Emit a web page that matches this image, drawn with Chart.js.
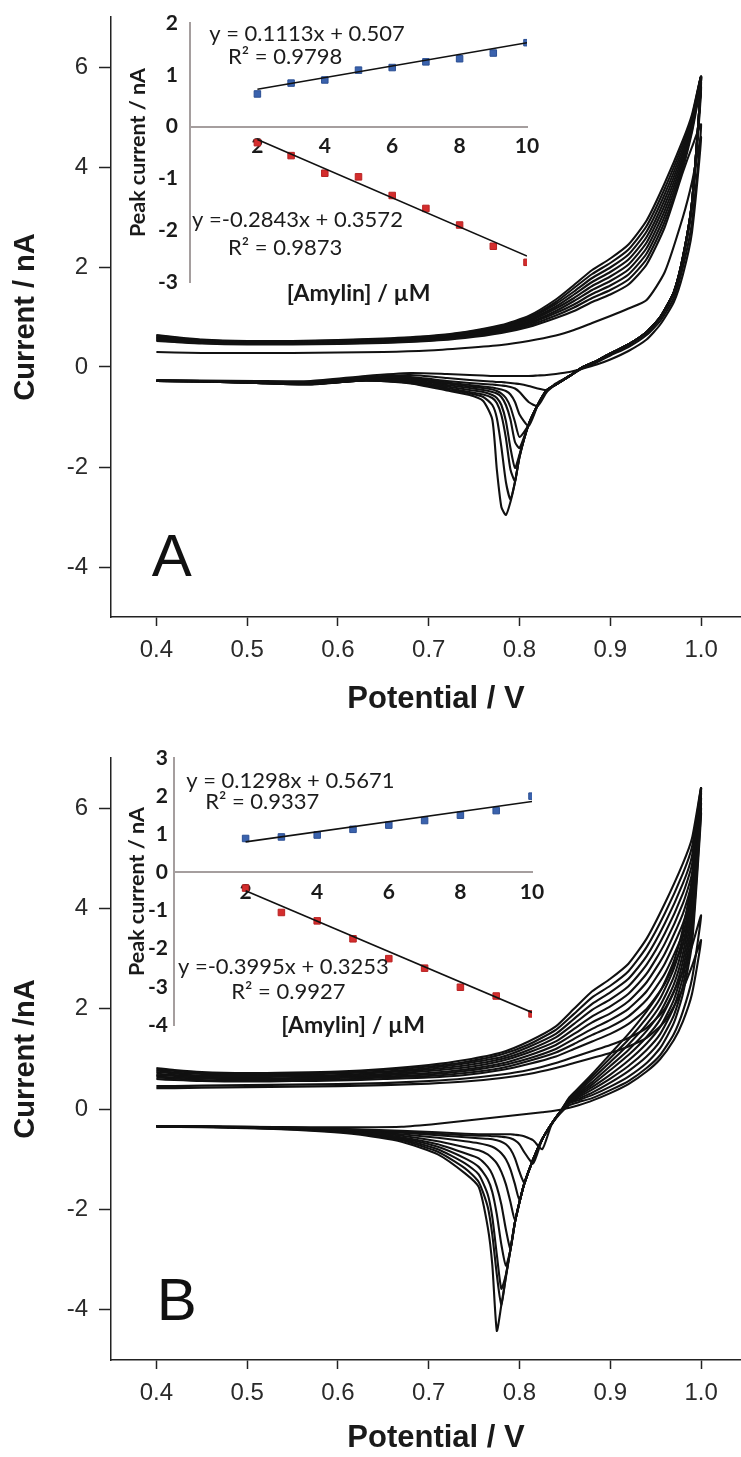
<!DOCTYPE html>
<html lang="en">
<head>
<meta charset="UTF-8">
<title>Amylin CV</title>
<script src="https://cdn.jsdelivr.net/npm/chart.js"></script>
<style>
  html, body { margin: 0; padding: 0; background: #fff; }
  #page { position: relative; width: 741px; height: 1457px; overflow: hidden; }
  canvas { position: absolute; }
</style>
</head>
<body>
<div id="page">
  <canvas id="mainA" style="left:0px;top:0px" width="761" height="728"></canvas>
  <canvas id="mainB" style="left:0px;top:728px" width="761" height="729"></canvas>
  <canvas id="insetA" style="left:100px;top:0px" width="460" height="320"></canvas>
  <canvas id="insetB" style="left:100px;top:700px" width="460" height="360"></canvas>
</div>
<script>
// ---- main panels: potentials (V) of the forward and reverse sweeps
const potFwd = [0.40, 0.42, 0.45, 0.50, 0.55, 0.60, 0.65, 0.70, 0.74, 0.78, 0.81, 0.84, 0.86, 0.88, 0.90, 0.92, 0.94, 0.96, 0.98, 0.99, 1.00];
const potRevA = [1.00, 0.99, 0.98, 0.97, 0.955, 0.94, 0.92, 0.90, 0.885, 0.87, 0.855, 0.84, 0.83, 0.82, 0.81, 0.80, 0.795, 0.79, 0.785, 0.78, 0.775, 0.77, 0.76, 0.745, 0.72, 0.68, 0.63, 0.57, 0.51, 0.45, 0.40];
const potRevB = [1.00, 0.99, 0.98, 0.97, 0.955, 0.94, 0.92, 0.90, 0.88, 0.865, 0.855, 0.845, 0.835, 0.825, 0.815, 0.805, 0.80, 0.795, 0.79, 0.785, 0.78, 0.775, 0.77, 0.765, 0.755, 0.74, 0.71, 0.67, 0.62, 0.56, 0.50, 0.45, 0.40];

// panel A currents (nA)
const fwdA = [
  [0.30,0.29,0.28,0.28,0.28,0.29,0.30,0.33,0.38,0.44,0.52,0.63,0.74,0.88,1.02,1.17,1.34,1.90,3.00,3.70,4.60],
  [0.52,0.50,0.47,0.45,0.45,0.46,0.48,0.52,0.58,0.68,0.80,0.98,1.12,1.30,1.45,1.65,2.05,2.80,3.90,4.40,4.85],
  [0.54,0.51,0.48,0.46,0.46,0.47,0.49,0.53,0.60,0.70,0.83,1.03,1.19,1.38,1.54,1.75,2.16,2.91,3.98,4.70,5.60],
  [0.55,0.53,0.49,0.47,0.47,0.48,0.50,0.55,0.61,0.72,0.86,1.08,1.25,1.46,1.63,1.85,2.27,3.02,4.06,4.75,5.70],
  [0.57,0.54,0.50,0.48,0.48,0.49,0.51,0.56,0.63,0.74,0.88,1.12,1.32,1.54,1.72,1.95,2.38,3.13,4.14,4.80,5.80],
  [0.58,0.55,0.51,0.49,0.49,0.50,0.52,0.57,0.64,0.76,0.91,1.17,1.38,1.62,1.81,2.05,2.49,3.24,4.22,4.85,5.80],
  [0.60,0.56,0.52,0.49,0.50,0.51,0.54,0.58,0.66,0.78,0.94,1.21,1.45,1.70,1.90,2.15,2.60,3.35,4.30,4.90,5.80],
  [0.61,0.58,0.53,0.50,0.50,0.52,0.55,0.60,0.67,0.80,0.97,1.26,1.51,1.78,1.99,2.25,2.71,3.46,4.38,4.95,5.80],
  [0.63,0.59,0.54,0.51,0.51,0.53,0.56,0.61,0.69,0.82,0.99,1.30,1.58,1.86,2.08,2.35,2.82,3.57,4.46,5.00,5.80],
  [0.64,0.60,0.55,0.52,0.52,0.54,0.57,0.62,0.70,0.84,1.02,1.35,1.64,1.94,2.17,2.45,2.93,3.68,4.54,5.05,5.80]
];
const revA = [
  [4.60,2.70,1.85,1.30,0.85,0.55,0.32,0.15,0.05,-0.03,-0.10,-0.14,-0.16,-0.17,-0.18,-0.18,-0.18,-0.18,-0.18,-0.18,-0.18,-0.18,-0.17,-0.16,-0.14,-0.12,-0.18,-0.28,-0.28,-0.27,-0.26],
  [4.85,2.90,2.00,1.38,0.92,0.64,0.40,0.23,0.09,-0.02,-0.18,-0.33,-0.46,-0.43,-0.38,-0.34,-0.33,-0.32,-0.31,-0.30,-0.30,-0.29,-0.28,-0.26,-0.22,-0.16,-0.20,-0.30,-0.30,-0.28,-0.27],
  [5.60,3.20,2.15,1.47,0.98,0.68,0.44,0.26,0.11,0.00,-0.18,-0.35,-0.50,-0.78,-0.70,-0.50,-0.43,-0.40,-0.38,-0.37,-0.36,-0.35,-0.34,-0.32,-0.28,-0.20,-0.22,-0.30,-0.30,-0.28,-0.27],
  [5.70,3.25,2.18,1.49,0.99,0.69,0.45,0.27,0.12,0.00,-0.18,-0.35,-0.48,-0.77,-1.18,-0.95,-0.70,-0.55,-0.48,-0.45,-0.43,-0.41,-0.39,-0.36,-0.31,-0.22,-0.23,-0.31,-0.30,-0.28,-0.27],
  [5.80,3.30,2.20,1.50,1.00,0.70,0.45,0.27,0.12,0.00,-0.18,-0.35,-0.47,-0.76,-1.16,-1.40,-1.10,-0.80,-0.62,-0.53,-0.48,-0.45,-0.42,-0.39,-0.33,-0.24,-0.25,-0.32,-0.31,-0.29,-0.28],
  [5.80,3.30,2.20,1.50,1.00,0.70,0.45,0.27,0.12,0.00,-0.18,-0.35,-0.47,-0.76,-1.15,-1.62,-1.50,-1.05,-0.76,-0.60,-0.53,-0.50,-0.46,-0.42,-0.36,-0.26,-0.26,-0.33,-0.31,-0.29,-0.28],
  [5.80,3.30,2.20,1.50,1.00,0.70,0.45,0.27,0.12,0.00,-0.18,-0.35,-0.46,-0.76,-1.15,-1.75,-2.02,-1.62,-1.08,-0.76,-0.62,-0.56,-0.50,-0.46,-0.39,-0.28,-0.27,-0.34,-0.32,-0.29,-0.28],
  [5.80,3.30,2.20,1.50,1.00,0.70,0.45,0.27,0.12,0.00,-0.18,-0.35,-0.46,-0.76,-1.15,-1.78,-2.28,-2.05,-1.42,-0.96,-0.72,-0.62,-0.55,-0.50,-0.42,-0.30,-0.27,-0.34,-0.32,-0.29,-0.28],
  [5.80,3.30,2.20,1.50,1.00,0.70,0.45,0.27,0.12,0.00,-0.18,-0.35,-0.46,-0.76,-1.15,-1.80,-2.30,-2.65,-2.30,-1.60,-1.02,-0.76,-0.60,-0.53,-0.45,-0.32,-0.27,-0.35,-0.32,-0.29,-0.28],
  [5.80,3.30,2.20,1.50,1.00,0.70,0.45,0.27,0.12,0.00,-0.18,-0.35,-0.46,-0.76,-1.15,-1.80,-2.30,-2.70,-2.96,-2.80,-2.05,-1.05,-0.68,-0.56,-0.47,-0.33,-0.27,-0.35,-0.32,-0.29,-0.28]
];

// panel B currents (nA)
const fwdB = [
  [0.42,0.42,0.43,0.44,0.45,0.46,0.48,0.51,0.55,0.62,0.70,0.82,0.92,1.02,1.12,1.25,1.42,1.75,2.40,2.85,3.37],
  [0.46,0.46,0.47,0.48,0.49,0.50,0.52,0.56,0.61,0.69,0.78,0.92,1.04,1.16,1.28,1.42,1.62,2.00,2.75,3.25,3.86],
  [0.60,0.58,0.56,0.55,0.56,0.57,0.60,0.63,0.68,0.78,0.90,1.05,1.20,1.35,1.50,1.70,2.00,2.50,3.30,4.00,5.90],
  [0.63,0.61,0.58,0.57,0.58,0.59,0.63,0.66,0.72,0.82,0.96,1.13,1.30,1.48,1.64,1.85,2.18,2.70,3.50,4.18,6.00],
  [0.66,0.63,0.61,0.59,0.60,0.62,0.65,0.69,0.76,0.87,1.01,1.20,1.40,1.60,1.78,2.00,2.35,2.90,3.70,4.35,6.10],
  [0.68,0.66,0.63,0.61,0.62,0.64,0.68,0.72,0.79,0.91,1.07,1.28,1.50,1.73,1.91,2.15,2.53,3.10,3.90,4.53,6.20],
  [0.71,0.68,0.65,0.64,0.65,0.66,0.70,0.76,0.83,0.96,1.13,1.35,1.60,1.85,2.05,2.30,2.70,3.30,4.10,4.70,6.30],
  [0.74,0.71,0.67,0.66,0.67,0.68,0.73,0.79,0.87,1.00,1.18,1.43,1.70,1.98,2.19,2.45,2.88,3.50,4.30,4.88,6.35],
  [0.77,0.73,0.70,0.68,0.69,0.71,0.75,0.82,0.91,1.04,1.24,1.50,1.80,2.10,2.33,2.60,3.05,3.70,4.50,5.05,6.40],
  [0.79,0.76,0.72,0.70,0.71,0.73,0.78,0.85,0.94,1.09,1.29,1.58,1.90,2.23,2.46,2.75,3.23,3.90,4.70,5.23,6.40],
  [0.82,0.78,0.74,0.72,0.73,0.75,0.80,0.88,0.98,1.13,1.35,1.65,2.00,2.35,2.60,2.90,3.40,4.10,4.90,5.40,6.40]
];
const revB = [
  [3.37,2.30,1.75,1.38,1.00,0.75,0.50,0.32,0.17,0.08,0.03,-0.01,-0.04,-0.06,-0.08,-0.10,-0.11,-0.12,-0.13,-0.14,-0.15,-0.16,-0.17,-0.18,-0.20,-0.23,-0.29,-0.35,-0.36,-0.36,-0.35,-0.34,-0.34],
  [3.86,2.60,1.95,1.50,1.08,0.82,0.56,0.38,0.22,0.14,0.08,-0.08,-0.32,-0.80,-0.62,-0.54,-0.52,-0.51,-0.50,-0.50,-0.50,-0.50,-0.50,-0.50,-0.50,-0.49,-0.46,-0.43,-0.40,-0.37,-0.35,-0.34,-0.34],
  [5.90,3.30,2.30,1.72,1.22,0.92,0.65,0.45,0.28,0.18,0.12,-0.05,-0.30,-0.60,-1.08,-0.85,-0.70,-0.62,-0.58,-0.56,-0.55,-0.54,-0.54,-0.53,-0.53,-0.52,-0.49,-0.45,-0.41,-0.37,-0.36,-0.35,-0.34],
  [6.00,3.46,2.46,1.87,1.36,1.05,0.76,0.53,0.33,0.21,0.13,-0.05,-0.30,-0.60,-1.00,-1.45,-1.25,-0.98,-0.80,-0.70,-0.65,-0.62,-0.60,-0.59,-0.58,-0.56,-0.52,-0.47,-0.42,-0.38,-0.36,-0.35,-0.34],
  [6.10,3.63,2.63,2.03,1.50,1.18,0.86,0.61,0.39,0.24,0.15,-0.05,-0.30,-0.60,-1.00,-1.50,-1.82,-1.50,-1.20,-1.00,-0.88,-0.80,-0.75,-0.72,-0.68,-0.64,-0.57,-0.50,-0.43,-0.38,-0.36,-0.35,-0.34],
  [6.20,3.79,2.79,2.18,1.64,1.31,0.97,0.69,0.44,0.27,0.16,-0.05,-0.30,-0.60,-1.00,-1.50,-1.85,-2.22,-1.85,-1.50,-1.25,-1.08,-0.98,-0.90,-0.82,-0.76,-0.64,-0.53,-0.44,-0.39,-0.36,-0.35,-0.34],
  [6.30,3.95,2.95,2.34,1.79,1.44,1.08,0.78,0.49,0.30,0.18,-0.05,-0.30,-0.60,-1.00,-1.50,-1.85,-2.25,-2.78,-2.40,-1.90,-1.55,-1.30,-1.15,-0.98,-0.88,-0.70,-0.56,-0.45,-0.39,-0.36,-0.35,-0.34],
  [6.35,4.11,3.11,2.49,1.93,1.56,1.18,0.86,0.54,0.33,0.19,-0.05,-0.30,-0.60,-1.00,-1.50,-1.85,-2.25,-2.80,-3.12,-2.70,-2.10,-1.65,-1.40,-1.15,-0.98,-0.75,-0.58,-0.46,-0.40,-0.36,-0.35,-0.34],
  [6.40,4.28,3.28,2.64,2.07,1.69,1.29,0.94,0.60,0.36,0.21,-0.05,-0.30,-0.60,-1.00,-1.50,-1.85,-2.25,-2.80,-3.30,-3.58,-2.90,-2.15,-1.70,-1.30,-1.08,-0.80,-0.60,-0.47,-0.40,-0.37,-0.35,-0.34],
  [6.40,4.44,3.44,2.80,2.21,1.82,1.39,1.02,0.65,0.39,0.22,-0.05,-0.30,-0.60,-1.00,-1.50,-1.85,-2.25,-2.80,-3.32,-3.92,-3.30,-2.50,-1.95,-1.45,-1.18,-0.85,-0.62,-0.48,-0.41,-0.37,-0.35,-0.34],
  [6.40,4.60,3.60,2.95,2.35,1.95,1.50,1.10,0.70,0.42,0.24,-0.05,-0.30,-0.60,-1.00,-1.50,-1.85,-2.25,-2.80,-3.35,-3.90,-4.42,-3.10,-2.35,-1.55,-1.28,-0.90,-0.65,-0.50,-0.42,-0.38,-0.36,-0.35]
];

const xTicksMain = [0.4, 0.5, 0.6, 0.7, 0.8, 0.9, 1.0];
const yTicksMain = [-4, -2, 0, 2, 4, 6];

// ---- insets: peak current vs [Amylin]
const amylin = [2, 3, 4, 5, 6, 7, 8, 9, 10];
const oxA = [0.63, 0.84, 0.90, 1.09, 1.14, 1.25, 1.31, 1.42, 1.62];
const redA = [-0.31, -0.56, -0.90, -0.97, -1.33, -1.58, -1.90, -2.31, -2.62];
const oxFitA = [0.72, 1.62];
const redFitA = [-0.25, -2.50];
const oxB = [0.89, 0.93, 0.98, 1.13, 1.24, 1.36, 1.50, 1.62, 2.00];
const redB = [-0.41, -1.05, -1.27, -1.74, -2.26, -2.51, -3.01, -3.24, -3.71];
const oxFitB = [0.80, 1.86];
const redFitB = [-0.48, -3.67];
const insetXTicks = [2, 4, 6, 8, 10];
const eqTextA = ['y = 0.1113x + 0.507', 'R² = 0.9798', 'y =-0.2843x + 0.3572', 'R² = 0.9873'];
const eqPosA = [[0.57, 1.78], [1.13, 1.35], [0.06, -1.80], [1.13, -2.34]];
const eqTextB = ['y = 0.1298x + 0.5671', 'R² = 0.9337', 'y =-0.3995x + 0.3253', 'R² = 0.9927'];
const eqPosB = [[0.34, 2.41], [0.87, 1.84], [0.11, -2.49], [1.60, -3.12]];

const sans = "'Liberation Sans', Arial, sans-serif";
const lato = "Lato, 'Open Sans', sans-serif";

function loop(fwd, potRev, rev) {
  const pts = potFwd.map((v, i) => ({ x: v, y: fwd[i] }));
  for (let j = 1; j < potRev.length; j++) pts.push({ x: potRev[j], y: rev[j] });
  return pts;
}

function noEndPadding(s) {
  s.paddingTop = 0;
  s.paddingBottom = 0;
}

function mainChart(id, fwd, potRev, rev, letter, letterPos, yTitle, padTop, xHeight, titlePad) {
  const datasets = fwd.map((f, k) => ({
    data: loop(f, potRev, rev[k]),
    showLine: true,
    borderColor: '#111',
    borderWidth: 2.1,
    pointRadius: 0,
    tension: 0.2,
    fill: false
  }));
  const letterPlugin = {
    id: 'letter',
    afterDraw(chart) {
      const c = chart.ctx;
      c.save();
      c.font = '60px ' + sans;
      c.fillStyle = '#111';
      c.textBaseline = 'alphabetic';
      c.fillText(letter, chart.scales.x.getPixelForValue(letterPos[0]), chart.scales.y.getPixelForValue(letterPos[1]));
      c.restore();
    }
  };
  return new Chart(document.getElementById(id), {
    type: 'scatter',
    data: { datasets },
    plugins: [letterPlugin],
    options: {
      responsive: false,
      animation: false,
      layout: { padding: { top: padTop, left: 0, right: 0, bottom: 0 } },
      plugins: { legend: { display: false }, tooltip: { enabled: false } },
      scales: {
        x: {
          type: 'linear', min: 0.35, max: 1.066,
          afterBuildTicks: s => { s.ticks = xTicksMain.map(v => ({ value: v })); },
          afterFit: s => { s.height = xHeight; },
          ticks: { callback: v => v.toFixed(1), font: { family: sans, size: 24 }, color: '#2a2a2a', padding: 10, maxRotation: 0, autoSkip: false },
          grid: { display: true, drawOnChartArea: false, drawTicks: true, tickLength: 9, tickColor: '#222', tickWidth: 1.5 },
          border: { display: true, color: '#222', width: 1.5 },
          title: { display: true, text: 'Potential / V', font: { family: sans, size: 31, weight: 'bold' }, color: '#1a1a1a', padding: { top: 0, bottom: titlePad } }
        },
        y: {
          type: 'linear', min: -5, max: 7,
          afterBuildTicks: s => { s.ticks = yTicksMain.map(v => ({ value: v })); },
          afterFit: s => { s.width = 111; noEndPadding(s); },
          ticks: { font: { family: sans, size: 24 }, color: '#2a2a2a', padding: 11 },
          grid: { display: true, drawOnChartArea: false, drawTicks: true, tickLength: 12, tickColor: '#222', tickWidth: 1.5 },
          border: { display: true, color: '#222', width: 1.5 },
          title: { display: true, text: yTitle, font: { family: sans, size: 29, weight: 'bold' }, color: '#1a1a1a', padding: { top: 9, bottom: 0 } }
        }
      }
    }
  });
}

function insetChart(id, ox, red, oxFit, redFit, yMin, yMax, eqText, eqPos, o) {
  const eqPlugin = {
    id: 'equations',
    afterDraw(chart) {
      const c = chart.ctx;
      c.save();
      c.font = '22px ' + lato;
      c.fillStyle = '#1c1c1c';
      c.textBaseline = 'middle';
      eqText.forEach((t, i) => {
        c.fillText(t, chart.scales.x.getPixelForValue(eqPos[i][0]), chart.scales.y.getPixelForValue(eqPos[i][1]));
      });
      c.restore();
    }
  };
  const gray = '#a59e9e';
  return new Chart(document.getElementById(id), {
    type: 'scatter',
    data: {
      datasets: [
        { data: [{ x: 2, y: oxFit[0] }, { x: 10, y: oxFit[1] }], showLine: true, borderColor: '#111', borderWidth: 1.6, pointRadius: 0 },
        { data: [{ x: 2, y: redFit[0] }, { x: 10, y: redFit[1] }], showLine: true, borderColor: '#111', borderWidth: 1.6, pointRadius: 0 },
        { data: amylin.map((x, i) => ({ x, y: ox[i] })), pointStyle: 'rect', pointRadius: 4.6, backgroundColor: '#3a62ad', borderColor: '#2b4f93', borderWidth: 1 },
        { data: amylin.map((x, i) => ({ x, y: red[i] })), pointStyle: 'rect', pointRadius: 4.6, backgroundColor: '#d42d2d', borderColor: '#b82222', borderWidth: 1 }
      ]
    },
    plugins: [eqPlugin],
    options: {
      responsive: false,
      animation: false,
      layout: { padding: { top: o.padTop, left: 0, right: o.padRight, bottom: 0 } },
      plugins: { legend: { display: false }, tooltip: { enabled: false } },
      scales: {
        x: {
          type: 'linear', min: 0, max: 10, position: { y: 0 },
          afterBuildTicks: s => { s.ticks = insetXTicks.map(v => ({ value: v })); },
          ticks: { font: { family: lato, size: 21, weight: 'bold' }, color: '#1a1a1a', padding: 7, maxRotation: 0, autoSkip: false },
          grid: { display: false, drawTicks: false },
          border: { display: true, color: gray, width: 2 }
        },
        x2: {
          type: 'linear', position: 'bottom', display: true,
          afterFit: s => { s.height = o.x2Height; },
          ticks: { display: false },
          grid: { display: false, drawTicks: false },
          border: { display: false },
          title: { display: true, text: '[Amylin] / µM', font: { family: lato, size: 23, weight: 'bold' }, color: '#1a1a1a', padding: { top: 0, bottom: o.x2Pad } }
        },
        y: {
          type: 'linear', min: yMin, max: yMax, position: 'left',
          afterFit: s => { s.width = o.yWidth; noEndPadding(s); },
          ticks: { stepSize: 1, font: { family: lato, size: 21, weight: 'bold' }, color: '#1a1a1a', padding: o.yPad },
          grid: { display: false, drawTicks: false },
          border: { display: true, color: gray, width: 2 },
          title: { display: true, text: 'Peak current / nA', font: { family: lato, size: 21.5, weight: 'bold' }, color: '#1a1a1a', padding: { top: o.titleTop, bottom: 0 } }
        }
      }
    }
  });
}

mainChart('mainA', fwdA, potRevA, revA, 'A', [0.395, -4.18], 'Current / nA', 17, 111, 10);
mainChart('mainB', fwdB, potRevB, revB, 'B', [0.4005, -4.2], 'Current /nA', 30, 97, 0);
insetChart('insetA', oxA, redA, oxFitA, redFitA, -3, 2, eqTextA, eqPosA,
  { padTop: 23, padRight: 33, x2Height: 38, x2Pad: 13, yWidth: 90, yPad: 12, titleTop: 25 });
insetChart('insetB', oxB, redB, oxFitB, redFitB, -4, 3, eqTextB, eqPosB,
  { padTop: 58, padRight: 28, x2Height: 35, x2Pad: 21, yWidth: 74, yPad: 6, titleTop: 24.5 });
</script>
</body>
</html>
